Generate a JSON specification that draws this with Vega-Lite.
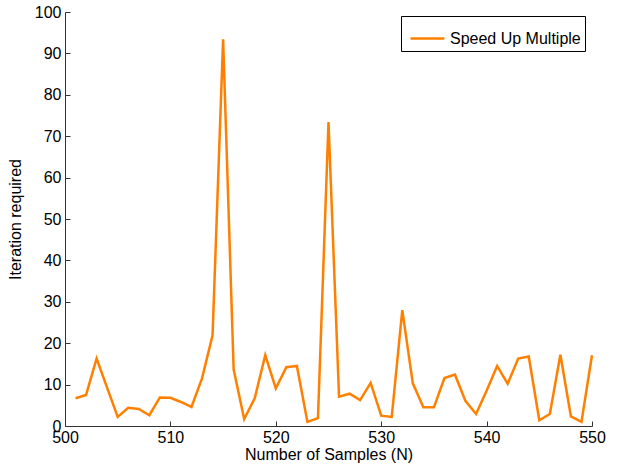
{
  "$schema": "https://vega.github.io/schema/vega-lite/v6.json",
  "width": 527,
  "height": 414,
  "autosize": {"type": "none"},
  "padding": {"left": 65, "top": 12, "right": 27, "bottom": 45},
  "background": "white",
  "config": {
    "view": {"stroke": null},
    "font": "Liberation Sans",
    "axis": {
      "grid": false,
      "domainColor": "#333333",
      "domainWidth": 1,
      "tickColor": "#333333",
      "tickSize": -5,
      "labelFlush": false,
      "labelOverlap": false,
      "labelColor": "black",
      "titleColor": "black",
      "labelFont": "Liberation Sans",
      "titleFont": "Liberation Sans",
      "labelFontSize": 16,
      "titleFontSize": 16,
      "titleFontWeight": "normal"
    }
  },
  "data": {
    "values": [
      {"N": 501, "v": 6.7},
      {"N": 502, "v": 7.5},
      {"N": 503, "v": 16.3},
      {"N": 504, "v": 9.2},
      {"N": 505, "v": 2.2},
      {"N": 506, "v": 4.4},
      {"N": 507, "v": 4.1},
      {"N": 508, "v": 2.6},
      {"N": 509, "v": 6.9},
      {"N": 510, "v": 6.8},
      {"N": 511, "v": 5.8},
      {"N": 512, "v": 4.6},
      {"N": 513, "v": 11.5},
      {"N": 514, "v": 21.9},
      {"N": 515, "v": 93.4},
      {"N": 516, "v": 13.7},
      {"N": 517, "v": 1.7},
      {"N": 518, "v": 6.7},
      {"N": 519, "v": 17.1},
      {"N": 520, "v": 9.1},
      {"N": 521, "v": 14.2},
      {"N": 522, "v": 14.5},
      {"N": 523, "v": 1.0},
      {"N": 524, "v": 1.9},
      {"N": 525, "v": 73.4},
      {"N": 526, "v": 7.1},
      {"N": 527, "v": 7.8},
      {"N": 528, "v": 6.25},
      {"N": 529, "v": 10.4},
      {"N": 530, "v": 2.5},
      {"N": 531, "v": 2.2},
      {"N": 532, "v": 28.0},
      {"N": 533, "v": 10.3},
      {"N": 534, "v": 4.5},
      {"N": 535, "v": 4.5},
      {"N": 536, "v": 11.6},
      {"N": 537, "v": 12.4},
      {"N": 538, "v": 6.0},
      {"N": 539, "v": 2.9},
      {"N": 540, "v": 8.5},
      {"N": 541, "v": 14.5},
      {"N": 542, "v": 10.2},
      {"N": 543, "v": 16.3},
      {"N": 544, "v": 16.8},
      {"N": 545, "v": 1.4},
      {"N": 546, "v": 2.9},
      {"N": 547, "v": 17.2},
      {"N": 548, "v": 2.3},
      {"N": 549, "v": 1.0},
      {"N": 550, "v": 17.1}
    ]
  },
  "mark": {"type": "line", "strokeWidth": 2.5, "strokeJoin": "miter"},
  "encoding": {
    "x": {
      "field": "N",
      "type": "quantitative",
      "title": "Number of Samples (N)",
      "scale": {"domain": [500, 550], "nice": false, "zero": false},
      "axis": {"values": [500, 510, 520, 530, 540, 550], "labelPadding": 8, "titlePadding": 1}
    },
    "y": {
      "field": "v",
      "type": "quantitative",
      "title": "Iteration required",
      "scale": {"domain": [0, 100], "nice": false},
      "axis": {"values": [0, 10, 20, 30, 40, 50, 60, 70, 80, 90, 100], "labelPadding": 9, "titlePadding": 11}
    },
    "color": {
      "datum": "Speed Up Multiple",
      "type": "nominal",
      "scale": {"range": ["#FF8000"]},
      "legend": {
        "title": null,
        "orient": "none",
        "legendX": 336,
        "legendY": 4,
        "strokeColor": "black",
        "fillColor": "white",
        "padding": 4,
        "symbolType": "stroke",
        "symbolSize": 1150,
        "symbolStrokeWidth": 2.5,
        "symbolOffset": 4,
        "labelOffset": 4,
        "labelFontSize": 16,
        "labelFont": "Liberation Sans",
        "labelColor": "black"
      }
    }
  }
}
